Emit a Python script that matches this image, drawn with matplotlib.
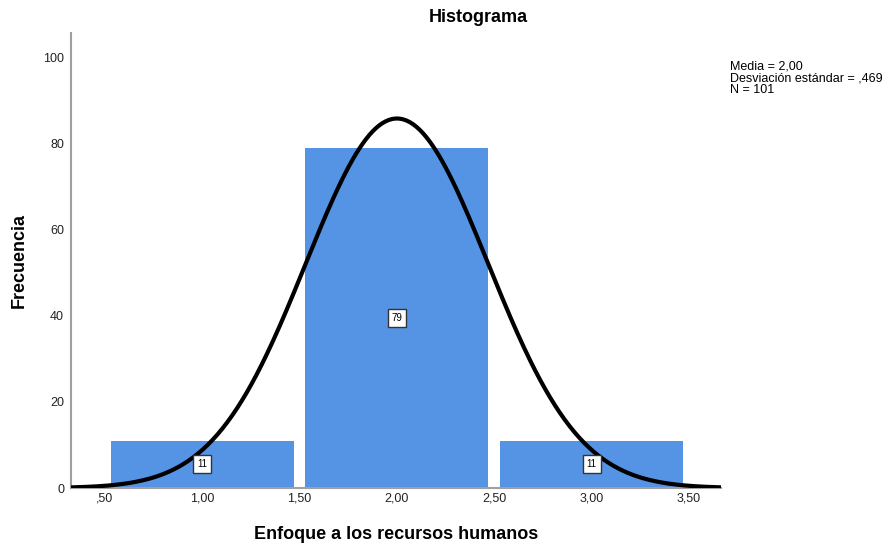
import numpy as np
import matplotlib
matplotlib.use("Agg")
import matplotlib.pyplot as plt

plt.rcParams['font.family'] = ['Liberation Sans', 'DejaVu Sans']

bin_centers = [1.0, 2.0, 3.0]
counts = [11, 79, 11]
mean, sd, n = 2.00, 0.469, 101
bin_width = 1.0
xticks = [0.5, 1.0, 1.5, 2.0, 2.5, 3.0, 3.5]
xticklabels = [",50", "1,00", "1,50", "2,00", "2,50", "3,00", "3,50"]
yticks = [0, 20, 40, 60, 80, 100]

fig = plt.figure(figsize=(8.83, 5.46), dpi=100)
ax = fig.add_axes([0.0804, 0.1062, 0.7361, 0.8334])

ax.bar(bin_centers, counts, width=0.94, color='#5593e5', edgecolor='none', zorder=1)
for c, h in zip(bin_centers, counts):
    ax.text(c, h / 2, str(h), ha='center', va='center', fontsize=7, zorder=4,
            bbox=dict(boxstyle='square,pad=0.4', fc='white', ec='#333333', lw=1.0))

xlim = (0.326, 3.664)
xs = np.linspace(xlim[0], xlim[1], 400)
ys = n * bin_width / (sd * np.sqrt(2 * np.pi)) * np.exp(-0.5 * ((xs - mean) / sd) ** 2)
ax.plot(xs, ys, color='black', lw=3, zorder=3, solid_capstyle='butt')

ax.set_xlim(*xlim)
ax.set_ylim(0, 105.8)
ax.set_xticks(xticks)
ax.set_xticklabels(xticklabels)
ax.set_yticks(yticks)
ax.tick_params(length=0, labelsize=9, colors='#222222')
ax.tick_params(axis='x', pad=3)
ax.tick_params(axis='y', pad=5)
for s in ['top', 'right']:
    ax.spines[s].set_visible(False)
for s in ['left', 'bottom']:
    ax.spines[s].set_color('#a0a0a0')
    ax.spines[s].set_linewidth(1.5)

fig.text(478 / 883, 1 - 18 / 546, 'Histograma', fontsize=13, fontweight='bold',
         ha='center', va='center')
ax.set_xlabel('Enfoque a los recursos humanos', fontsize=13, fontweight='bold', labelpad=16)
ax.set_ylabel('Frecuencia', fontsize=13, fontweight='bold', labelpad=11)

fig.text(730 / 883, 1 - 60 / 546, 'Media = 2,00\nDesviación estándar = ,469\nN = 101',
         fontsize=9, va='top', ha='left', linespacing=1.0)

fig.savefig('out.png', dpi=100)
